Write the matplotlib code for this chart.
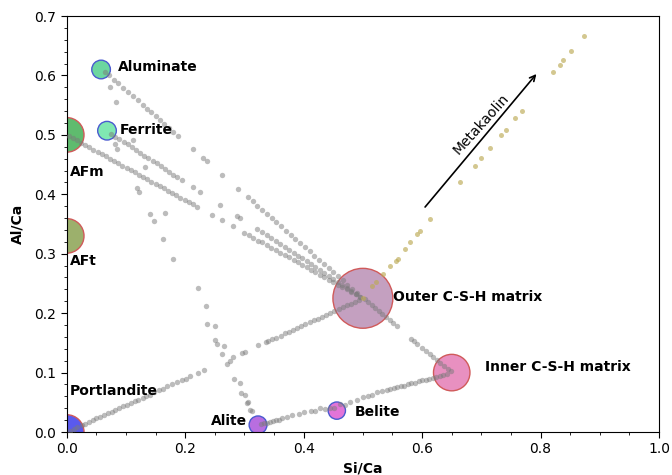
import matplotlib
matplotlib.use("Agg")
import matplotlib.pyplot as plt
from matplotlib.ticker import MultipleLocator

# Clinker and hydrate phases (Si/Ca, Al/Ca)
phases = ["Aluminate", "Ferrite", "AFm", "AFt", "Portlandite",
          "Alite", "Belite", "Outer C-S-H matrix", "Inner C-S-H matrix"]
phase_si_ca = [0.058, 0.068, 0.0, 0.0, 0.0, 0.323, 0.456, 0.500, 0.650]
phase_al_ca = [0.610, 0.507, 0.500, 0.330, 0.0, 0.012, 0.036, 0.225, 0.100]

# Analysis points along the reaction paths (grey)
path_si_ca = [
    # portlandite -> outer C-S-H
    0.005, 0.012, 0.018, 0.025, 0.031, 0.038, 0.044, 0.050, 0.057, 0.063,
    0.070, 0.076, 0.082, 0.089, 0.095, 0.102, 0.108, 0.115, 0.121, 0.128,
    0.134, 0.141, 0.148, 0.155, 0.162, 0.170, 0.178, 0.186, 0.194, 0.201,
    0.208, 0.222, 0.231, 0.281, 0.296, 0.301, 0.323, 0.336,
    0.340, 0.347, 0.354, 0.361, 0.368, 0.375, 0.382, 0.389, 0.396, 0.403,
    0.410, 0.417, 0.424, 0.431, 0.438, 0.445, 0.452, 0.459, 0.466, 0.473,
    0.480, 0.487, 0.494,
    # AFm -> outer C-S-H
    0.003, 0.010, 0.017, 0.024, 0.031, 0.038, 0.045, 0.052, 0.059, 0.066,
    0.073, 0.080, 0.087, 0.094, 0.101, 0.108, 0.115, 0.122, 0.129, 0.136,
    0.143, 0.150, 0.157, 0.164, 0.171, 0.178, 0.185, 0.192, 0.199, 0.206,
    0.213, 0.220, 0.245, 0.262, 0.281,
    0.300, 0.308, 0.315, 0.323, 0.330, 0.338, 0.345, 0.353, 0.360, 0.368,
    0.375, 0.383, 0.390, 0.398, 0.405, 0.413, 0.420, 0.428, 0.435, 0.443,
    0.450, 0.458, 0.465, 0.473, 0.480, 0.488, 0.495,
    # ferrite -> outer C-S-H
    0.075, 0.082, 0.089, 0.096, 0.103, 0.110, 0.117, 0.124, 0.131, 0.138,
    0.145, 0.152, 0.159, 0.166, 0.173, 0.180, 0.187, 0.194,
    0.213, 0.225, 0.259, 0.287, 0.293, 0.321,
    0.330, 0.338, 0.345, 0.353, 0.360, 0.368, 0.375, 0.383, 0.390, 0.398,
    0.405, 0.413, 0.420, 0.428, 0.435, 0.443, 0.450, 0.458, 0.465, 0.473,
    0.480, 0.488, 0.495,
    # aluminate -> outer C-S-H
    0.065, 0.072, 0.079, 0.086, 0.095, 0.103, 0.112, 0.120, 0.128, 0.135,
    0.142, 0.150, 0.157, 0.165, 0.172, 0.180, 0.188,
    0.213, 0.230, 0.236, 0.262, 0.290,
    0.306, 0.314, 0.322, 0.330, 0.338, 0.346, 0.354, 0.362, 0.370, 0.378,
    0.386, 0.394, 0.402, 0.410, 0.418, 0.426, 0.434, 0.442, 0.450, 0.458,
    0.466, 0.474, 0.482, 0.490,
    # aluminate -> alite
    0.073, 0.084, 0.112, 0.132, 0.166, 0.222, 0.235, 0.250, 0.265, 0.276,
    0.292, 0.301, 0.306, 0.313,
    # ferrite -> alite
    0.081, 0.085, 0.118, 0.122, 0.141, 0.147, 0.163, 0.180, 0.236, 0.250,
    0.253, 0.262, 0.270, 0.283, 0.295, 0.304, 0.310,
    # outer C-S-H -> inner C-S-H
    0.503, 0.509, 0.515, 0.521, 0.527, 0.533, 0.539, 0.545, 0.551, 0.557,
    0.582, 0.587, 0.592, 0.600, 0.607, 0.613, 0.619, 0.625, 0.631, 0.637,
    0.643, 0.648,
    # alite -> belite -> inner C-S-H
    0.328, 0.333, 0.338, 0.343, 0.348, 0.353, 0.358, 0.363,
    0.372, 0.381, 0.392, 0.400, 0.412, 0.420, 0.428, 0.436, 0.444, 0.452,
    0.462, 0.470, 0.478, 0.490, 0.500, 0.508, 0.516, 0.524, 0.532,
    0.540, 0.546, 0.552, 0.558, 0.564, 0.570, 0.576, 0.582, 0.588, 0.594,
    0.600, 0.606, 0.612, 0.618, 0.624, 0.630, 0.636, 0.642,
]
path_al_ca = [
    # portlandite -> outer C-S-H
    0.002, 0.005, 0.008, 0.011, 0.014, 0.017, 0.020, 0.023, 0.026, 0.028,
    0.032, 0.034, 0.037, 0.040, 0.043, 0.046, 0.049, 0.052, 0.054, 0.058,
    0.060, 0.063, 0.067, 0.070, 0.073, 0.077, 0.080, 0.084, 0.087, 0.090,
    0.094, 0.100, 0.104, 0.127, 0.133, 0.135, 0.146, 0.151,
    0.153, 0.156, 0.159, 0.162, 0.166, 0.169, 0.172, 0.175, 0.178, 0.181,
    0.185, 0.188, 0.191, 0.194, 0.197, 0.200, 0.203, 0.207, 0.210, 0.213,
    0.216, 0.219, 0.222,
    # AFm -> outer C-S-H
    0.498, 0.494, 0.491, 0.487, 0.483, 0.479, 0.475, 0.471, 0.468, 0.464,
    0.460, 0.456, 0.452, 0.448, 0.444, 0.441, 0.437, 0.433, 0.429, 0.425,
    0.421, 0.417, 0.414, 0.410, 0.406, 0.402, 0.398, 0.394, 0.391, 0.387,
    0.383, 0.379, 0.365, 0.356, 0.346,
    0.335, 0.331, 0.327, 0.322, 0.319, 0.314, 0.310, 0.306, 0.302, 0.298,
    0.294, 0.289, 0.286, 0.281, 0.277, 0.273, 0.269, 0.265, 0.261, 0.256,
    0.253, 0.248, 0.244, 0.240, 0.236, 0.232, 0.228,
    # ferrite -> outer C-S-H
    0.502, 0.497, 0.493, 0.488, 0.484, 0.479, 0.474, 0.470, 0.465, 0.461,
    0.456, 0.452, 0.447, 0.443, 0.438, 0.433, 0.429, 0.424,
    0.412, 0.404, 0.382, 0.364, 0.360, 0.342,
    0.336, 0.331, 0.326, 0.321, 0.316, 0.311, 0.306, 0.301, 0.297, 0.292,
    0.287, 0.282, 0.277, 0.272, 0.267, 0.262, 0.258, 0.252, 0.248, 0.243,
    0.238, 0.233, 0.228,
    # aluminate -> outer C-S-H
    0.606, 0.600, 0.593, 0.587, 0.579, 0.572, 0.565, 0.558, 0.551, 0.544,
    0.538, 0.531, 0.525, 0.518, 0.512, 0.505, 0.498,
    0.476, 0.461, 0.456, 0.433, 0.409,
    0.395, 0.388, 0.381, 0.374, 0.367, 0.360, 0.353, 0.346, 0.339, 0.332,
    0.325, 0.318, 0.311, 0.304, 0.297, 0.290, 0.283, 0.276, 0.269, 0.262,
    0.255, 0.248, 0.241, 0.234,
    # aluminate -> alite
    0.580, 0.555, 0.492, 0.446, 0.369, 0.242, 0.212, 0.178, 0.144, 0.119,
    0.083, 0.063, 0.051, 0.035,
    # ferrite -> alite
    0.484, 0.476, 0.411, 0.404, 0.367, 0.355, 0.324, 0.291, 0.181, 0.154,
    0.148, 0.131, 0.115, 0.090, 0.066, 0.049, 0.037,
    # outer C-S-H -> inner C-S-H
    0.223, 0.218, 0.213, 0.208, 0.203, 0.198, 0.193, 0.188, 0.183, 0.178,
    0.157, 0.153, 0.148, 0.142, 0.136, 0.131, 0.126, 0.121, 0.116, 0.111,
    0.106, 0.102,
    # alite -> belite -> inner C-S-H
    0.013, 0.015, 0.016, 0.017, 0.019, 0.020, 0.021, 0.023,
    0.026, 0.028, 0.031, 0.033, 0.036, 0.035, 0.040, 0.038, 0.041, 0.040,
    0.047, 0.046, 0.050, 0.054, 0.059, 0.061, 0.063, 0.067, 0.069,
    0.070, 0.072, 0.074, 0.075, 0.077, 0.078, 0.080, 0.082, 0.083, 0.085,
    0.087, 0.088, 0.090, 0.091, 0.093, 0.095, 0.096, 0.098,
]

# Metakaolin addition path (olive)
mk_si_ca = [0.500, 0.515, 0.522, 0.534, 0.546, 0.556, 0.560, 0.571, 0.579,
            0.592, 0.596, 0.613, 0.664, 0.689, 0.700, 0.714, 0.734, 0.741,
            0.757, 0.768, 0.821, 0.832, 0.838, 0.852, 0.873]
mk_al_ca = [0.226, 0.245, 0.253, 0.266, 0.280, 0.287, 0.291, 0.308, 0.319,
            0.334, 0.339, 0.358, 0.420, 0.447, 0.461, 0.478, 0.500, 0.509,
            0.528, 0.541, 0.605, 0.618, 0.626, 0.641, 0.666]

# Marker styling for each phase
phase_sizes = [180, 180, 620, 620, 620, 165, 155, 1860, 690]
phase_colors = ["#6cd6a0", "#80e8b2", "#5fbb6e", "#9cb06c", "#5a5aee",
                "#b86ee0", "#e274d8", "#c4a0c0", "#e890c0"]
phase_edges = ["#4a5ad0", "#4a5ad0", "#d05a5a", "#d05a5a", "#d05a5a",
               "#4a5ad0", "#4a5ad0", "#d05a5a", "#d05a5a"]
label_offsets = [(12, 2), (9.5, 0.5), (2.4, -26.5), (2.4, -18), (2.4, 29.5),
                 (-8, 2.5), (13, -1), (21.5, 1.2), (24, 3.8)]
label_ha = ["left"] * 5 + ["right"] + ["left"] * 3

fig = plt.figure(figsize=(6.72, 4.75), dpi=100)
ax = fig.add_axes([0.0993, 0.0905, 0.8814, 0.8758])

ax.scatter(phase_si_ca, phase_al_ca, s=phase_sizes, c=phase_colors,
           edgecolors=phase_edges, linewidths=1.0, zorder=2)
ax.scatter(path_si_ca, path_al_ca, s=15, color="#7a7a7a", alpha=0.5,
           linewidths=0, zorder=3)
ax.scatter(mk_si_ca, mk_al_ca, s=13, color="#bcaa55", alpha=0.65,
           linewidths=0, zorder=3)

for name, x, y, off, ha in zip(phases, phase_si_ca, phase_al_ca,
                               label_offsets, label_ha):
    ax.annotate(name, (x, y), xytext=off, textcoords="offset points",
                ha=ha, va="center", fontsize=10, fontweight="bold",
                zorder=4)

ax.annotate("", xy=(0.796, 0.606), xytext=(0.602, 0.375),
            arrowprops=dict(arrowstyle="->", color="black", lw=1.2))
ax.text(0.699, 0.518, "Metakaolin", rotation=48, ha="center", va="center",
        fontsize=10)

ax.set_xlim(0, 1.0)
ax.set_ylim(0, 0.7)
ax.xaxis.set_major_locator(MultipleLocator(0.2))
ax.xaxis.set_minor_locator(MultipleLocator(0.05))
ax.yaxis.set_major_locator(MultipleLocator(0.1))
ax.yaxis.set_minor_locator(MultipleLocator(0.02))
ax.tick_params(which="major", direction="out", length=4, labelsize=10)
ax.tick_params(which="minor", direction="out", length=2)
ax.set_xlabel("Si/Ca", fontsize=10, fontweight="bold")
ax.set_ylabel("Al/Ca", fontsize=10, fontweight="bold", labelpad=7)

fig.savefig("out.png", dpi=100)
